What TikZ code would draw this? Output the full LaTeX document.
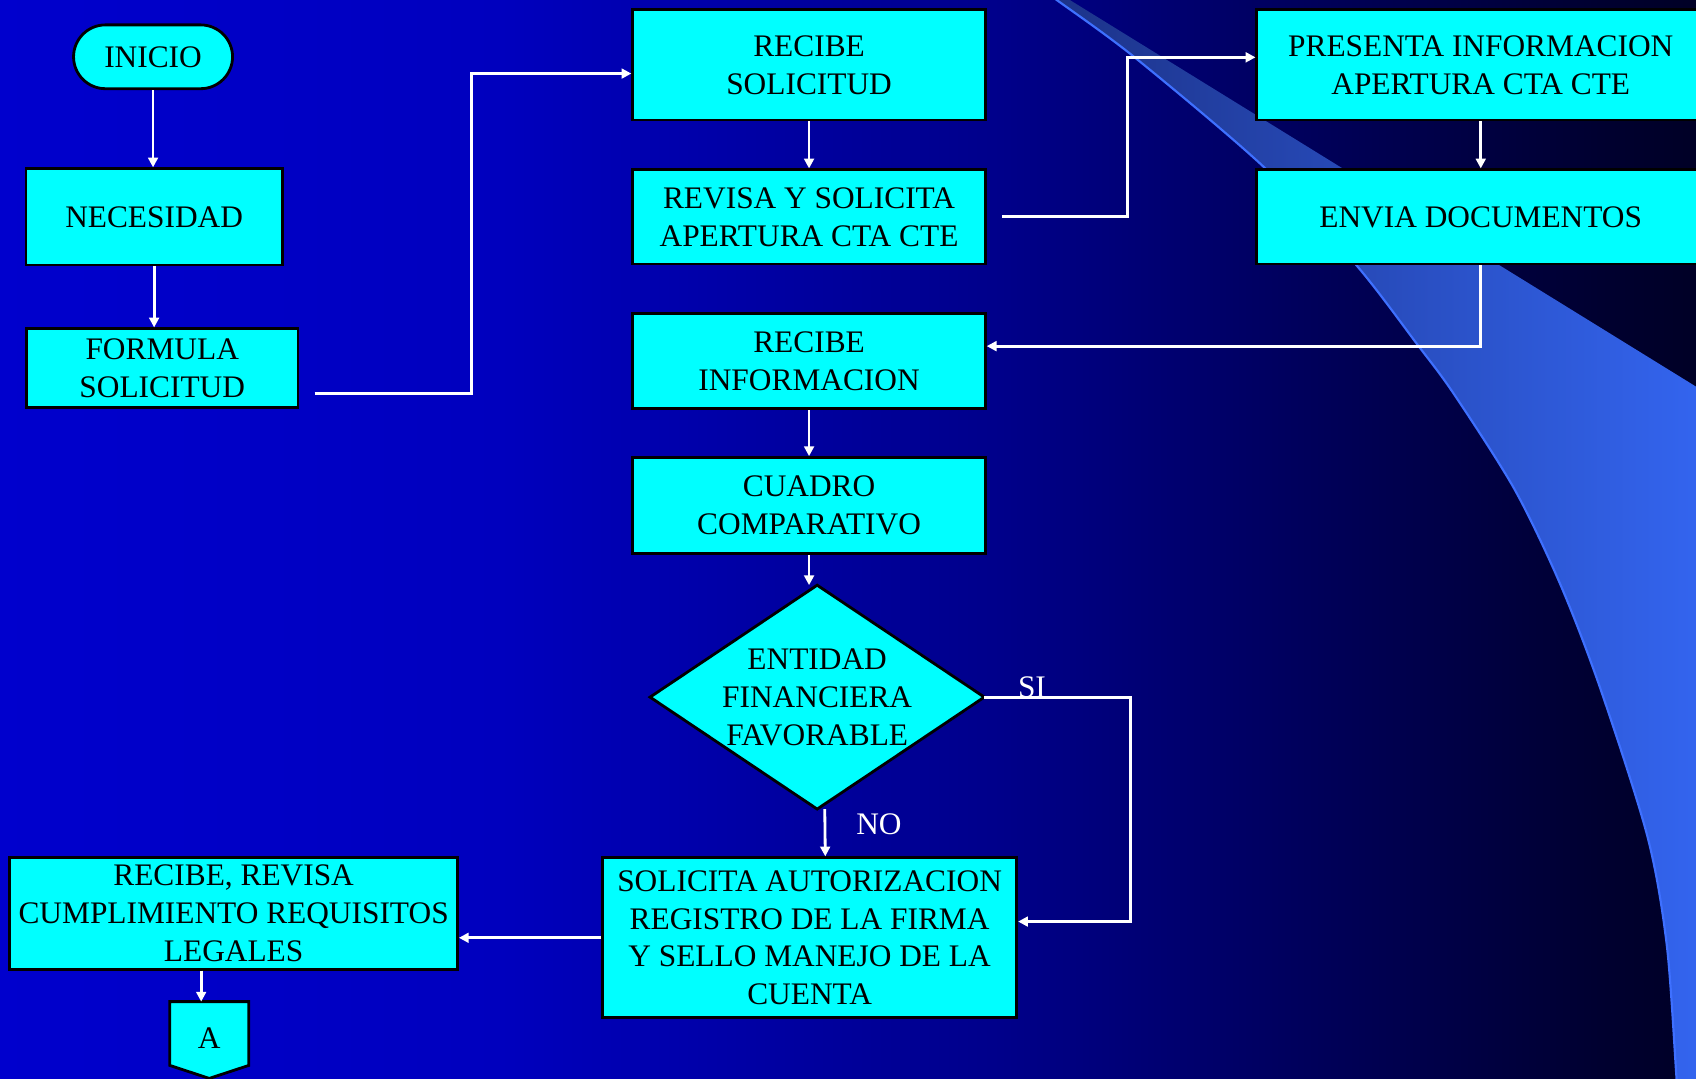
\documentclass[tikz,border=0pt]{standalone}
\usepackage{fontspec}
\setmainfont{Liberation Serif}
\usetikzlibrary{arrows.meta,calc}
\newcommand\txtfont{\fontsize{29}{35}\selectfont}
% background ramp
\definecolor{bgA}{RGB}{0,0,205}
\definecolor{bgB}{RGB}{0,0,190}
\definecolor{bgC}{RGB}{0,0,138}
\definecolor{bgD}{RGB}{0,0,92}
\definecolor{bgE}{RGB}{0,0,48}
\definecolor{bgF}{RGB}{0,0,38}
% swoosh
\definecolor{swDark}{RGB}{28,50,135}
\definecolor{swMid}{RGB}{46,88,210}
\definecolor{swLight}{RGB}{52,102,242}
\definecolor{swEdge}{RGB}{62,112,255}
% boxes
\definecolor{boxcyan}{RGB}{0,255,255}
\begin{document}
\begin{tikzpicture}[x=1pt,y=-1pt,
  box/.style={draw=black,line width=2.6pt,fill=boxcyan,inner sep=0pt,
    align=center,font=\txtfont,text=black},
  frame/.style={inner sep=0pt,outer sep=0pt},
  conn/.style={draw=white,line width=2.6pt,-{Triangle[length=9pt,width=9pt]}},
  lbl/.style={text=white,font=\txtfont,inner sep=0pt}]

\useasboundingbox (0,0) rectangle (1568,997);
\clip (0,0) rectangle (1568,997);

% background: horizontal blue ramp, darker to the right
\shade[left color=bgA,right color=bgB] (0,-1) rectangle (462.5,998);
\shade[left color=bgB,right color=bgC] (462,-1) rectangle (925.5,998);
\shade[left color=bgC,right color=bgD] (925,-1) rectangle (1202.5,998);
\shade[left color=bgD,right color=bgE] (1202,-1) rectangle (1479.5,998);
\shade[left color=bgE,right color=bgF] (1479,-1) rectangle (1569,998);

% decorative swoosh on the right
\shade[left color=swDark,middle color=swMid,right color=swLight]
  plot[smooth] coordinates {(970,-5) (977,0) (1049,53) (1168,154) (1253,244)
    (1310,318) (1344,364) (1400,452) (1442,539) (1479,635) (1523,773)
    (1541,874) (1550,997) (1551,1005)}
  -- (1590,1005) -- (1590,371) -- (981,-5) -- cycle;
\draw[swEdge,line width=2pt]
  plot[smooth] coordinates {(970,-5) (977,0) (1049,53) (1168,154) (1253,244)
    (1310,318) (1344,364) (1400,452) (1442,539) (1479,635) (1523,773)
    (1541,874) (1550,997) (1551,1005)};

% process boxes
\node[box,rounded corners=29.5pt,minimum width=147pt,minimum height=59pt]
  (inicio) at (141.5,52.5) {INICIO};
\node[box,minimum width=237pt,minimum height=89pt] (nec) at (142.5,200.5) {NECESIDAD};
\node[box,minimum width=251pt,minimum height=73pt] (form) at (150,340.5) {FORMULA\\SOLICITUD};
\node[box,minimum width=326pt,minimum height=102pt] (recsol) at (748,60) {RECIBE\\SOLICITUD};
\node[box,minimum width=326pt,minimum height=87pt] (revisa) at (748,200.5)
  {REVISA Y SOLICITA\\APERTURA CTA CTE};
\node[box,minimum width=414pt,minimum height=102pt] (pres) at (1369,60)
  {PRESENTA INFORMACION\\APERTURA CTA CTE};
\node[box,minimum width=414pt,minimum height=87pt] (envia) at (1369,200.5) {ENVIA DOCUMENTOS};
\node[box,minimum width=326pt,minimum height=88pt] (recinfo) at (748,334) {RECIBE\\INFORMACION};
\node[box,minimum width=326pt,minimum height=89pt] (cuadro) at (748,467.5) {CUADRO\\COMPARATIVO};

% decision
\node[frame,minimum width=309pt,minimum height=207pt] (dia) at (755.5,644.5) {};
\draw[draw=black,line width=2.6pt,fill=boxcyan]
  (dia.north) -- (dia.east) -- (dia.south) -- (dia.west) -- cycle;
\node[font=\txtfont,align=center,inner sep=0pt] (diatext) at (dia.center)
  {ENTIDAD\\FINANCIERA\\FAVORABLE};

\node[box,minimum width=383pt,minimum height=148pt] (solic) at (748.5,867)
  {SOLICITA AUTORIZACION\\REGISTRO DE LA FIRMA\\Y SELLO MANEJO DE LA\\CUENTA};
\node[box,minimum width=414pt,minimum height=103pt] (recrev) at (216,844.5)
  {RECIBE, REVISA\\CUMPLIMIENTO REQUISITOS\\LEGALES};

% off-page connector
\node[frame,minimum width=73pt,minimum height=71pt] (conA) at (193.5,961.5) {};
\draw[draw=black,line width=2.6pt,fill=boxcyan]
  (conA.north west) -- (conA.north east) -- ([yshift=12pt]conA.south east)
  -- (conA.south) -- ([yshift=12pt]conA.south west) -- cycle;
\node[font=\txtfont,inner sep=0pt] (aletter) at ([yshift=2pt]conA.center) {A};

% connectors
\draw[conn] (inicio.south) -- (inicio.south |- nec.north);
\draw[conn] (nec.south) -- (nec.south |- form.north);
\draw[conn] ([xshift=14pt,yshift=-23.5pt]form.east)
  -| ([xshift=-148pt,yshift=-8pt]recsol.west) -- ([yshift=-8pt]recsol.west);
\draw[conn] (recsol.south) -- (revisa.north);
\draw[conn] ([xshift=14pt]revisa.east)
  -| ([xshift=-118pt,yshift=7pt]pres.west) -- ([yshift=7pt]pres.west);
\draw[conn] (pres.south) -- (envia.north);
\draw[conn] (envia.south) |- ([yshift=14pt]recinfo.east);
\draw[conn] (recinfo.south) -- (cuadro.north);
\draw[conn] (cuadro.south) -- (cuadro.south |- dia.north);
\draw[conn] (dia.east) -| ([xshift=104pt,yshift=15pt]solic.east) -- ([yshift=15pt]solic.east);
\node[lbl,anchor=base west] (si) at ([xshift=31pt]dia.east) {SI};
\draw[conn] ([xshift=7pt]dia.south) -- ([xshift=14.5pt]solic.north);
\node[lbl,anchor=west] (no) at ([xshift=36pt,yshift=-14pt]dia.south) {NO};
\draw[conn] (solic.west) -- (solic.west -| recrev.east);
\draw[conn] ([xshift=-7.5pt]conA.north |- recrev.south) -- ([xshift=-7.5pt]conA.north);
\end{tikzpicture}
\end{document}
